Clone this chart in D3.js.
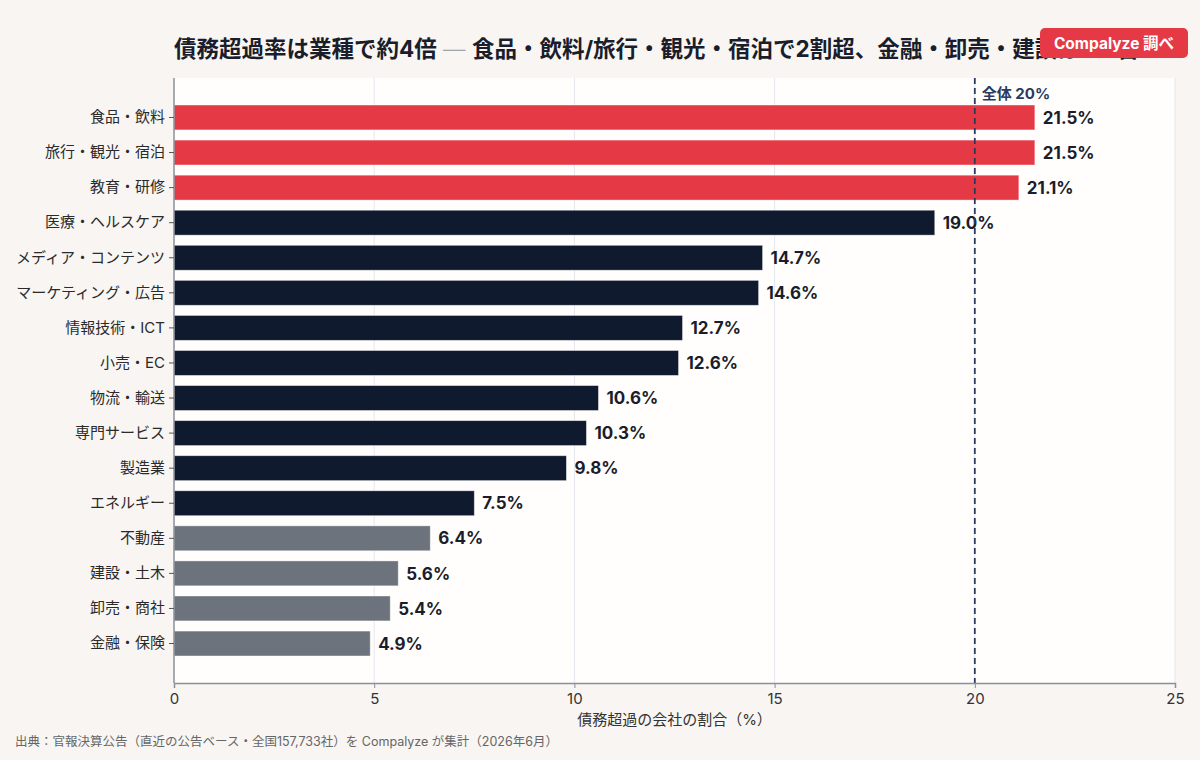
<!DOCTYPE html>
<html><head><meta charset="utf-8">
<script src="https://cdn.jsdelivr.net/npm/d3@7"></script>
<style>
html,body{margin:0;padding:0;background:#f8f5f2;}
svg{display:block;font-family:Inter,"Noto Sans CJK JP","Noto Sans",sans-serif;}
svg text{font-family:Inter,"Noto Sans CJK JP","Noto Sans",sans-serif;}
</style></head><body>
<svg id="chart" width="1200" height="760"></svg>
<script>
const categories = ["食品・飲料","旅行・観光・宿泊","教育・研修","医療・ヘルスケア","メディア・コンテンツ","マーケティング・広告","情報技術・ICT","小売・EC","物流・輸送","専門サービス","製造業","エネルギー","不動産","建設・土木","卸売・商社","金融・保険"];
const values = [21.5,21.5,21.1,19.0,14.7,14.6,12.7,12.6,10.6,10.3,9.8,7.5,6.4,5.6,5.4,4.9];
const groups = ["high","high","high","mid","mid","mid","mid","mid","mid","mid","mid","mid","low","low","low","low"];
const xTicks = [0,5,10,15,20,25];
const overall = 20;
const overallLabel = "全体 20%";
const titleParts = ["債務超過率は業種で約4倍", " — ", "食品・飲料/旅行・観光・宿泊で2割超、金融・卸売・建設は5%台"];
const xLabel = "債務超過の会社の割合（%）";
const source = "出典：官報決算公告（直近の公告ベース・全国157,733社）を Compalyze が集計（2026年6月）";
const badge = "Compalyze 調べ";

const colors = {high:"#e63946", mid:"#0f1a2e", low:"#6c737c"};
const svg = d3.select("#chart");
const m = {left:174, right:1175, top:78, bottom:683};

svg.append("rect").attr("x",m.left).attr("y",m.top).attr("width",m.right-m.left).attr("height",m.bottom-m.top).attr("fill","#fffefd");

const x = d3.scaleLinear().domain([0,25]).range([m.left,m.right]);
const y = d3.scaleBand().domain(categories).range([m.top+16.85,m.bottom-16.85]).paddingInner(0.29).paddingOuter(0.29);

// grid
svg.append("g").selectAll("line").data(xTicks.slice(1)).join("line")
  .attr("x1",d=>x(d)).attr("x2",d=>x(d)).attr("y1",m.top).attr("y2",m.bottom)
  .attr("stroke","#e4e6ee").attr("stroke-width",1);

// bars
svg.append("g").selectAll("rect").data(categories).join("rect")
  .attr("x",x(0)).attr("y",d=>y(d)).attr("width",(d,i)=>x(values[i])-x(0)).attr("height",y.bandwidth())
  .attr("fill",(d,i)=>colors[groups[i]]).attr("stroke","#ffffff").attr("stroke-opacity",0.5).attr("stroke-width",0.8);

// value labels
svg.append("g").selectAll("text").data(categories).join("text")
  .attr("x",(d,i)=>x(values[i])+8).attr("y",d=>y(d)+y.bandwidth()/2).attr("dy","0.36em")
  .attr("font-size",17).attr("font-weight",700).attr("fill","#1a1d2b")
  .text((d,i)=>values[i].toFixed(1)+"%");

// reference line
svg.append("line").attr("x1",x(overall)).attr("x2",x(overall)).attr("y1",m.top).attr("y2",m.bottom)
  .attr("stroke","#2b3a5e").attr("stroke-width",1.8).attr("stroke-dasharray","6,4");
svg.append("text").attr("x",x(overall)+7).attr("y",99).attr("font-size",15).attr("font-weight",700).attr("fill","#2b3a5e").text(overallLabel);

// axes
const xAxis = svg.append("g").attr("transform",`translate(0,${m.bottom})`)
  .call(d3.axisBottom(x).tickValues(xTicks).tickSize(5).tickPadding(5));
xAxis.select(".domain").attr("stroke","#8a8f9a").attr("stroke-width",1.5);
xAxis.selectAll(".tick line").attr("stroke","#8a8f9a");
xAxis.selectAll("text").attr("font-size",15).attr("fill","#333").attr("font-family",null);

const yAxis = svg.append("g").attr("transform",`translate(${m.left},0)`)
  .call(d3.axisLeft(y).tickSize(5).tickPadding(4));
yAxis.select(".domain").attr("stroke","#8a8f9a").attr("stroke-width",1.5).attr("d",`M0,${m.top}V${m.bottom}`);
yAxis.selectAll(".tick line").attr("stroke","#555");
yAxis.selectAll("text").attr("font-size",15).attr("fill","#2a2a2a").attr("font-family",null);

// labels
svg.append("text").attr("x",(m.left+m.right)/2).attr("y",725).attr("text-anchor","middle").attr("font-size",15).attr("fill","#333").text(xLabel);
svg.append("text").attr("x",15).attr("y",746).attr("font-size",12.5).attr("fill","#666").text(source);
const t = svg.append("text").attr("x",174).attr("y",57).attr("font-size",22.5).attr("font-weight",700).attr("fill","#1a1d2b");
t.append("tspan").text(titleParts[0]);
t.append("tspan").attr("fill","#a0a4ab").attr("font-weight",300).text(titleParts[1]);
t.append("tspan").text(titleParts[2]);

// badge
const bg = svg.append("g");
bg.append("rect").attr("x",1040).attr("y",28).attr("width",148).attr("height",30).attr("rx",5).attr("fill","#e63946");
bg.append("text").attr("x",1114).attr("y",43).attr("dy","0.36em").attr("text-anchor","middle").attr("font-size",15.5).attr("font-weight",700).attr("fill","#fff").text(badge);
</script></body></html>
